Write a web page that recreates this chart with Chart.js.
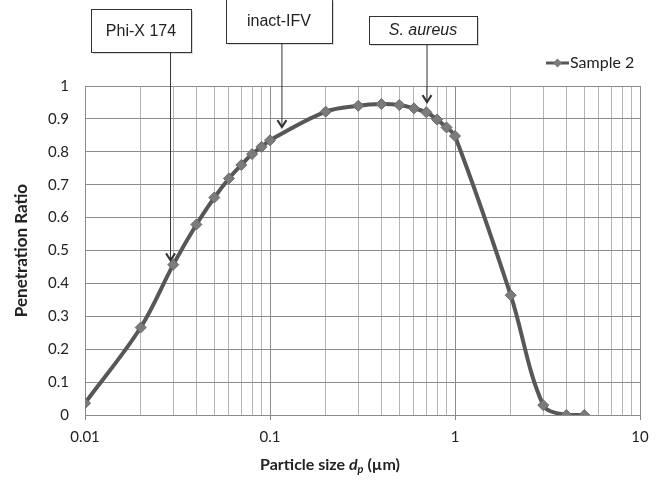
<!DOCTYPE html>
<html>
<head>
<meta charset="utf-8">
<script src="https://cdn.jsdelivr.net/npm/chart.js@4.4.1/dist/chart.umd.min.js"></script>
<style>
  html, body { margin: 0; padding: 0; background: #fff; }
  #wrap { width: 661px; height: 481px; }
</style>
</head>
<body>
<div id="wrap"><canvas id="penGraph" width="661" height="481"></canvas></div>
<script>
// particle size (um) and penetration ratio
var sizes = [0.01, 0.02, 0.03, 0.04, 0.05, 0.06, 0.07, 0.08, 0.09, 0.1,
             0.2, 0.3, 0.4, 0.5, 0.6, 0.7, 0.8, 0.9, 1, 2, 3, 4, 5];
var sample2 = [0.036, 0.266, 0.457, 0.579, 0.661, 0.719, 0.76, 0.793, 0.815, 0.835,
               0.922, 0.94, 0.945, 0.942, 0.932, 0.92, 0.898, 0.874, 0.848, 0.364, 0.03, 0.0, 0.0];
var xTicks = [0.01, 0.02, 0.03, 0.04, 0.05, 0.06, 0.07, 0.08, 0.09,
              0.1, 0.2, 0.3, 0.4, 0.5, 0.6, 0.7, 0.8, 0.9,
              1, 2, 3, 4, 5, 6, 7, 8, 9, 10];
var xLabels = ['0.01', '0.1', '1', '10'];

// callout boxes: text, arrow tip in data units
var callouts = [
    { text: 'Phi-X 174', italic: false, box: [91, 9, 100, 43], tipX: 0.029, tipY: 0.47 },
    { text: 'inact-IFV', italic: false, box: [226, -1, 106, 44], tipX: 0.116, tipY: 0.875 },
    { text: 'S. aureus', italic: true, box: [369, 16, 108, 28], tipX: 0.706, tipY: 0.951 }
];

var colors = {
    line: '#575757',
    point: '#7b7b7b',
    pointEdge: '#686868',
    gridMajor: '#8a8a8a',
    gridMinor: '#b4b4b4',
    gridH: '#8c8c8c',
    text: '#222222'
};

function isDecade(v) {
    var l = Math.log10(v);
    return Math.abs(l - Math.round(l)) < 1e-6;
}

var extras = {
    id: 'extras',
    afterDraw: function(chart) {
        var ctx = chart.ctx;
        var xs = chart.scales.x, ys = chart.scales.y;
        ctx.save();

        // callouts
        callouts.forEach(function(c) {
            var b = c.box;
            var tx = xs.getPixelForValue(c.tipX);
            var ty = ys.getPixelForValue(c.tipY);
            ctx.strokeStyle = '#333';
            ctx.lineWidth = 1;
            ctx.beginPath();
            ctx.moveTo(tx, b[1] + b[3]);
            ctx.lineTo(tx, ty);
            ctx.stroke();
            ctx.lineWidth = 2;
            ctx.beginPath();
            ctx.moveTo(tx - 4.5, ty - 7);
            ctx.lineTo(tx, ty);
            ctx.lineTo(tx + 4.5, ty - 7);
            ctx.stroke();

            ctx.fillStyle = 'rgba(0,0,0,0.15)';
            ctx.fillRect(b[0] + 2, b[1] + 2, b[2], b[3]);
            ctx.fillStyle = '#fff';
            ctx.fillRect(b[0], b[1], b[2], b[3]);
            ctx.lineWidth = 1;
            ctx.strokeStyle = '#333';
            ctx.strokeRect(b[0] + 0.5, b[1] + 0.5, b[2], b[3]);
            ctx.fillStyle = '#222';
            ctx.font = (c.italic ? 'italic ' : '') + '16px "Liberation Sans", Arial, sans-serif';
            ctx.textAlign = 'center';
            ctx.textBaseline = 'middle';
            ctx.fillText(c.text, b[0] + b[2] / 2, b[1] + b[3] / 2 + 1);
        });

        // legend
        var lx = 546, ly = 63;
        ctx.strokeStyle = colors.line;
        ctx.lineWidth = 3;
        ctx.beginPath();
        ctx.moveTo(lx, ly);
        ctx.lineTo(lx + 23, ly);
        ctx.stroke();
        ctx.fillStyle = colors.point;
        ctx.beginPath();
        ctx.moveTo(lx + 11.5, ly - 4.5);
        ctx.lineTo(lx + 16, ly);
        ctx.lineTo(lx + 11.5, ly + 4.5);
        ctx.lineTo(lx + 7, ly);
        ctx.closePath();
        ctx.fill();
        ctx.fillStyle = colors.text;
        ctx.font = '16px Lato, "Open Sans", sans-serif';
        ctx.textAlign = 'left';
        ctx.textBaseline = 'middle';
        ctx.fillText('Sample 2', lx + 24, ly);

        // x axis title with italic subscripted d_p
        var parts = [
            { t: 'Particle size ', f: 'bold 16px Lato, "Open Sans", sans-serif', dy: 0 },
            { t: 'd', f: 'bold italic 16px Lato, "Open Sans", sans-serif', dy: 0 },
            { t: 'p', f: 'bold italic 11px Lato, "Open Sans", sans-serif', dy: 4 },
            { t: ' (\u00b5m)', f: 'bold 16px Lato, "Open Sans", sans-serif', dy: 0 }
        ];
        var total = 0;
        parts.forEach(function(p) { ctx.font = p.f; p.w = ctx.measureText(p.t).width; total += p.w; });
        var px = 330 - total / 2;
        var py = 465;
        ctx.textAlign = 'left';
        parts.forEach(function(p) {
            ctx.font = p.f;
            ctx.fillText(p.t, px, py + p.dy);
            px += p.w;
        });
        ctx.restore();
    }
};

var data = {
    datasets: [{
        label: 'Sample 2',
        data: sizes.map(function(s, i) { return { x: s, y: sample2[i] }; }),
        borderColor: colors.line,
        backgroundColor: colors.point,
        borderWidth: 4,
        tension: 0.35,
        fill: false,
        pointStyle: 'rectRot',
        pointRadius: 5.5,
        pointBorderWidth: 1,
        pointBorderColor: colors.pointEdge,
        pointBackgroundColor: colors.point
    }]
};

var options = {
    responsive: false,
    animation: false,
    layout: { padding: { top: 86, right: 21, left: 0, bottom: 0 } },
    plugins: {
        legend: { display: false },
        tooltip: { enabled: false }
    },
    scales: {
        x: {
            type: 'logarithmic',
            min: 0.01,
            max: 10,
            afterBuildTicks: function(scale) {
                scale.ticks = xTicks.map(function(v) { return { value: v, major: isDecade(v) }; });
            },
            afterFit: function(scale) { scale.height = 66; },
            border: { color: colors.gridMajor, width: 1 },
            grid: {
                color: function(c) { return isDecade(c.tick.value) ? colors.gridMajor : colors.gridMinor; },
                tickColor: function(c) { return isDecade(c.tick.value) ? colors.gridMajor : 'rgba(0,0,0,0)'; },
                tickLength: 5,
                lineWidth: 1
            },
            ticks: {
                autoSkip: false,
                maxRotation: 0,
                padding: 8,
                color: colors.text,
                font: { family: 'Lato, "Open Sans", sans-serif', size: 15 },
                callback: function(v) {
                    if (!isDecade(v)) return '';
                    var i = Math.round(Math.log10(v)) + 2;
                    return xLabels[i];
                }
            }
        },
        y: {
            min: 0,
            max: 1,
            afterFit: function(scale) { scale.width = 85; },
            border: { color: colors.gridMajor, width: 1 },
            grid: { color: colors.gridH, drawTicks: false, lineWidth: 1 },
            ticks: {
                stepSize: 0.1,
                padding: 16,
                color: colors.text,
                font: { family: 'Lato, "Open Sans", sans-serif', size: 15 },
                callback: function(v) { return String(Math.round(v * 10) / 10); }
            },
            title: {
                display: true,
                text: 'Penetration Ratio',
                color: colors.text,
                font: { family: 'Lato, "Open Sans", sans-serif', size: 17, weight: 'bold' },
                padding: { top: 11, bottom: 0 }
            }
        }
    }
};

var ctx = document.getElementById('penGraph');
var g = new Chart(ctx, {
    type: 'line',
    data: data,
    options: options,
    plugins: [extras]
});
</script>
</body>
</html>
